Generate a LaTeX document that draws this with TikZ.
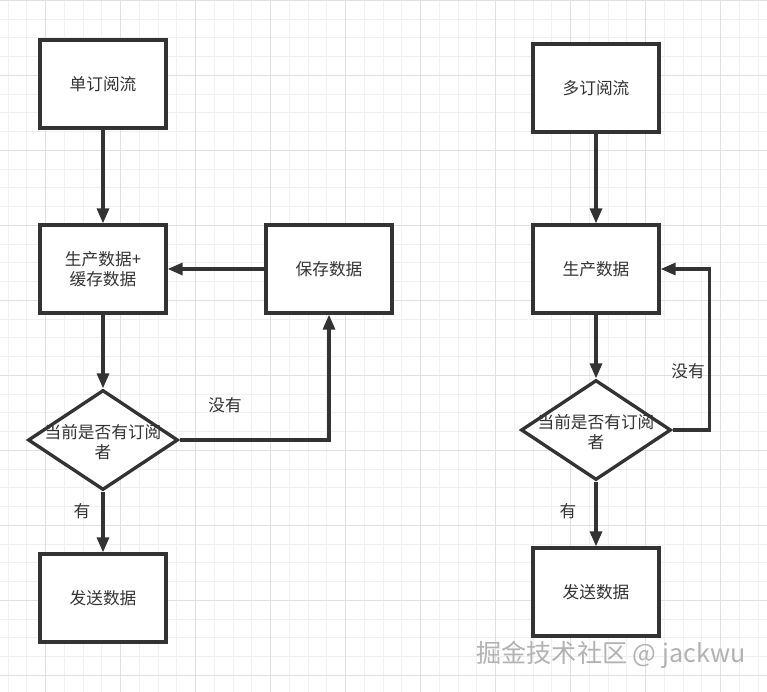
\documentclass[tikz,border=0pt]{standalone}
\usepackage{fontspec}
\newfontfamily\cjk{Noto Sans CJK SC}
\usepackage{tikz}
\usetikzlibrary{arrows.meta,shapes.geometric,positioning}
\definecolor{inkgray}{HTML}{333333}
\definecolor{gridminor}{HTML}{F0F0F0}
\definecolor{gridmajor}{HTML}{E0E0E0}

\begin{document}
\begin{tikzpicture}[
  x=0.02cm, y=-0.02cm,
  every node/.style={font=\cjk\fontsize{9.5}{11.5}\selectfont, text=inkgray},
  block/.style={draw=inkgray, line width=1.9pt, fill=white,
                minimum width=2.52cm, minimum height=1.76cm,
                align=center, inner sep=0pt},
  decide/.style={draw=inkgray, line width=1.9pt, fill=white, diamond,
                 aspect=1.5, minimum width=3cm, minimum height=2cm,
                 inner sep=0pt},
  arrow/.style={-{Triangle[length=0.3cm,width=0.24cm]}, line width=1.8pt, inkgray},
  tag/.style={inner sep=1pt},
]

%% Canvas and grid
\useasboundingbox[fill=white] (0,0) rectangle (767,692);
\foreach \k in {0,...,40} {
  \draw[gridminor, line width=0.5pt] (8+18.75*\k,0) -- (8+18.75*\k,692);
}
\foreach \k in {0,...,36} {
  \draw[gridminor, line width=0.5pt] (0,0.3+18.75*\k) -- (767,0.3+18.75*\k);
}
\foreach \k in {0,...,9} {
  \draw[gridmajor, line width=0.5pt] (45.5+75*\k,0) -- (45.5+75*\k,692);
  \draw[gridmajor, line width=0.5pt] (0,0.3+75*\k) -- (767,0.3+75*\k);
}

%% Single-subscriber flow
\node[block] (single) at (103, 84)  {单订阅流};
\node[block] (prodbuf) at (103, 269) {生产数据+\\缓存数据};
\node[block] (save) at (329, 269)   {保存数据};
\node[decide] (askl) at (103, 440)  {};
\node[align=center] (askltxt) at (103, 442) {当前是否有订阅\\者};
\node[block] (sendl) at (103, 598)  {发送数据};

\draw[arrow] (single.south) -- (prodbuf.north);
\draw[arrow] (prodbuf.south) -- (askl.north);
\draw[arrow] (save.west) -- (prodbuf.east);
\draw[arrow] (askl.east) -| (save.south);
\draw[arrow] (askl.south) -- (sendl.north);

\node[tag] (nol) at (225, 405) {没有};
\node[tag] (yesl) at (82, 511) {有};

%% Multi-subscriber flow
\node[block] (multi) at (596, 88)  {多订阅流};
\node[block] (prod) at (596, 269)  {生产数据};
\node[decide] (askr) at (596, 430) {};
\node[align=center] (askrtxt) at (596, 432) {当前是否有订阅\\者};
\node[block] (sendr) at (596, 592) {发送数据};

\draw[arrow] (multi.south) -- (prod.north);
\draw[arrow] (prod.south) -- (askr.north);
\draw[arrow] (askr.east) -- ++(37,0) |- (prod.east);
\draw[arrow] (askr.south) -- (sendr.north);

\node[tag] (nor) at (688, 371) {没有};
\node[tag] (yesr) at (568, 511) {有};

%% Watermark
\node[font=\cjk\fontsize{14.3}{16}\selectfont, text=gray!60] (mark) at (611, 655)
  {掘金技术社区 @ jackwu};

\end{tikzpicture}
\end{document}
